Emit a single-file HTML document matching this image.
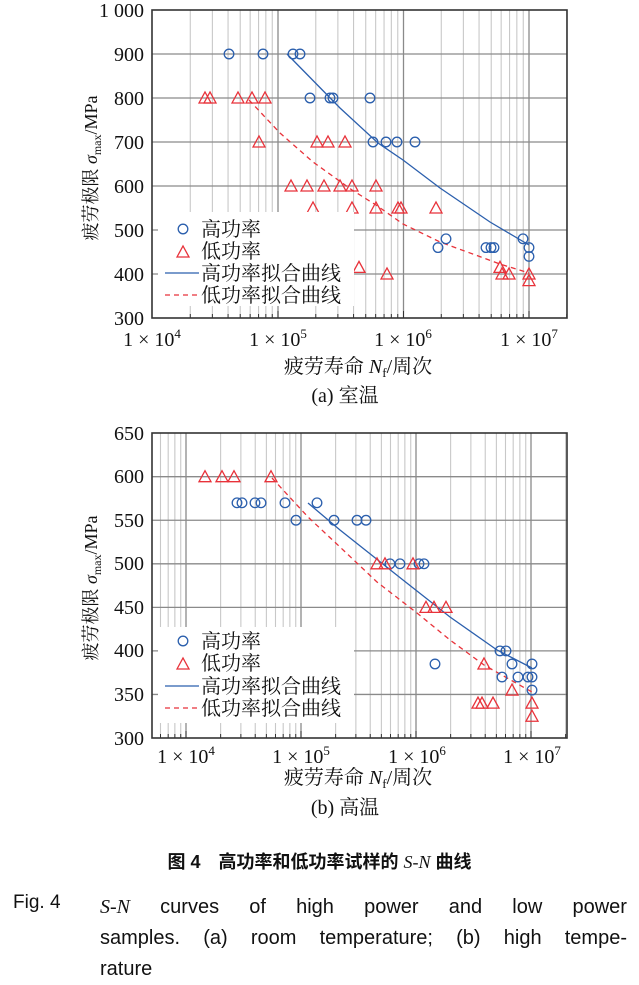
<!DOCTYPE html>
<html><head><meta charset="utf-8">
<style>
body{margin:0;background:#fff;width:639px;height:984px;overflow:hidden;position:relative}
svg{position:absolute;left:0;top:0}
.cap{position:absolute;font-family:"Liberation Sans","Noto Sans CJK SC",sans-serif;color:#111}
.row{display:flex;justify-content:space-between;width:527px;height:31px}
</style></head><body>
<svg id="s" width="639" height="984" xmlns="http://www.w3.org/2000/svg" font-family="'Liberation Serif','Noto Serif CJK SC',serif">
<g id="g"></g>
<g font-size="20" fill="#111" text-anchor="end">
<text x="144" y="17">1 000</text><text x="144" y="61">900</text><text x="144" y="105">800</text><text x="144" y="149">700</text><text x="144" y="193">600</text><text x="144" y="237">500</text><text x="144" y="281">400</text><text x="144" y="325">300</text>
<text x="144" y="440">650</text><text x="144" y="483">600</text><text x="144" y="527">550</text><text x="144" y="570">500</text><text x="144" y="614">450</text><text x="144" y="657">400</text><text x="144" y="701">350</text><text x="144" y="745">300</text>
</g>
<g font-size="20" fill="#111" text-anchor="middle">
<text x="152" y="346">1 × 10<tspan font-size="13" dy="-8">4</tspan></text>
<text x="278" y="346">1 × 10<tspan font-size="13" dy="-8">5</tspan></text>
<text x="403" y="346">1 × 10<tspan font-size="13" dy="-8">6</tspan></text>
<text x="529" y="346">1 × 10<tspan font-size="13" dy="-8">7</tspan></text>
<text x="186" y="763">1 × 10<tspan font-size="13" dy="-8">4</tspan></text>
<text x="301" y="763">1 × 10<tspan font-size="13" dy="-8">5</tspan></text>
<text x="417" y="763">1 × 10<tspan font-size="13" dy="-8">6</tspan></text>
<text x="532" y="763">1 × 10<tspan font-size="13" dy="-8">7</tspan></text>
<text x="358" y="373">疲劳寿命 <tspan font-style="italic">N</tspan><tspan font-size="13" dy="4">f</tspan><tspan dy="-4">/周次</tspan></text>
<text x="345" y="402">(a) 室温</text>
<text x="358" y="784">疲劳寿命 <tspan font-style="italic">N</tspan><tspan font-size="13" dy="4">f</tspan><tspan dy="-4">/周次</tspan></text>
<text x="345" y="814">(b) 高温</text>
</g>
<g font-size="18" fill="#111" text-anchor="middle">
<text transform="translate(97,168) rotate(-90)">疲劳极限 <tspan font-style="italic">σ</tspan><tspan font-size="12" dy="4">max</tspan><tspan dy="-4">/MPa</tspan></text>
<text transform="translate(97,588) rotate(-90)">疲劳极限 <tspan font-style="italic">σ</tspan><tspan font-size="12" dy="4">max</tspan><tspan dy="-4">/MPa</tspan></text>
</g>
<g id="leg" font-size="20" fill="#111">
<rect x="158" y="212" width="196" height="94" fill="#fff"/>
<circle cx="183" cy="229" r="4.8" fill="none" stroke="#2b5fad" stroke-width="1.3"/>
<path d="M177,257 L183,246 L189,257Z" fill="none" stroke="#e8323a" stroke-width="1.3"/>
<line x1="165" y1="273" x2="199" y2="273" stroke="#2b5fad" stroke-width="1.3"/>
<line x1="165" y1="295" x2="199" y2="295" stroke="#e8323a" stroke-width="1.3" stroke-dasharray="5,4"/>
<text x="201" y="236">高功率</text><text x="201" y="258">低功率</text><text x="201" y="280">高功率拟合曲线</text><text x="201" y="302">低功率拟合曲线</text>
<rect x="158" y="627" width="196" height="96" fill="#fff"/>
<circle cx="183" cy="641" r="4.8" fill="none" stroke="#2b5fad" stroke-width="1.3"/>
<path d="M177,669 L183,658 L189,669Z" fill="none" stroke="#e8323a" stroke-width="1.3"/>
<line x1="165" y1="686" x2="199" y2="686" stroke="#2b5fad" stroke-width="1.3"/>
<line x1="165" y1="708" x2="199" y2="708" stroke="#e8323a" stroke-width="1.3" stroke-dasharray="5,4"/>
<text x="201" y="648">高功率</text><text x="201" y="670">低功率</text><text x="201" y="693">高功率拟合曲线</text><text x="201" y="715">低功率拟合曲线</text>
</g>
</svg>
<div class="cap" style="left:0;width:639px;top:848px;text-align:center;font-size:18px;font-weight:bold">图 4　高功率和低功率试样的 <i style="font-family:'Liberation Serif',serif;font-weight:normal">S-N</i> 曲线</div>
<div class="cap" style="left:13px;top:892px;font-size:19px">Fig. 4</div>
<div class="cap" style="left:100px;top:892px;width:527px;font-size:20px;line-height:31px">
<div class="row"><i style="font-family:'Liberation Serif',serif">S-N</i><span>curves</span><span>of</span><span>high</span><span>power</span><span>and</span><span>low</span><span>power</span></div>
<div class="row"><span>samples.</span><span>(a)</span><span>room</span><span>temperature;</span><span>(b)</span><span>high</span><span>tempe-</span></div>
<div>rature</div></div>
<script>
const NS="http://www.w3.org/2000/svg",g=document.getElementById('g'),svg=document.getElementById('s'),leg=document.getElementById('leg');
function el(t,a,p){const e=document.createElementNS(NS,t);for(const k in a)e.setAttribute(k,a[k]);(p||g).appendChild(e);return e}
function chart(L,R,T,B,x0,dec,lo,yvals,Y){
 for(let d=3;d<=7;d++)for(let m=1;m<=9;m++){const x=x0+dec*(d-4+Math.log10(m));if(x<=L+0.5||x>=R)continue;
  el('line',{x1:x,x2:x,y1:T,y2:B,stroke:m==1?'#8a8a8a':'#c8c8c8','stroke-width':m==1?1.3:1.1});
  el('line',{x1:x,x2:x,y1:B,y2:B-(m==1?7:4),stroke:'#333','stroke-width':1});}
 yvals.forEach(v=>{const y=Y(v);el('line',{x1:L,x2:R,y1:y,y2:y,stroke:'#8a8a8a','stroke-width':1.3});});
 el('rect',{x:L,y:T,width:R-L,height:B-T,fill:'none',stroke:'#333','stroke-width':1.6});
}
const Yt=s=>318-(s-300)*0.44, Yb=s=>738-(s-300)*0.871;
chart(152,567,10,318,152.5,125.5,4,[900,800,700,600,500,400],Yt);
chart(152,567,433,738,186,115,3.7,[600,550,500,450,400,350],Yb);
const pl=el('g',{});
function C(x,y){el('circle',{cx:x,cy:y,r:4.8,fill:'none',stroke:'#2b5fad','stroke-width':1.3},pl)}
function T(x,y){el('path',{d:`M${x-6},${y+5} L${x},${y-6} L${x+6},${y+5}Z`,fill:'none',stroke:'#e8323a','stroke-width':1.3},pl)}
function path(pts,col,dash){let d='M'+pts[0];for(let i=1;i<pts.length;i++)d+=' L'+pts[i];const a={d:d,fill:'none',stroke:col,'stroke-width':1.3};if(dash)a['stroke-dasharray']='5,4';el('path',a,pl)}
path([[287,54],[340,108],[378,143],[403,160],[440,188],[490,222],[529,245]],'#2b5fad');
path([[249,100],[280,133],[313,162],[352,190],[376,205],[403,224],[440,242],[500,264],[529,273]],'#e8323a',1);
[[900,[229,263,293,300]],[800,[310,330,333,370]],[700,[373,386,397,415]],[480,[446,523]],[460,[438,486,491,494,529]],[440,[529]]].forEach(([s,xs])=>xs.forEach(x=>C(x,Yt(s))));
[[800,[205,210,238,252,265]],[700,[259,317,328,345]],[600,[291,307,324,340,352,376]],[550,[313,352,376,398,401,436]],[415,[359,500]],[400,[387,502,509,529]],[385,[529]]].forEach(([s,xs])=>xs.forEach(x=>T(x,Yt(s))));
path([[308,503],[340,530],[403,580],[450,617],[497,650],[532,668]],'#2b5fad');
path([[272,478],[308,517],[340,547],[377,582],[417,613],[450,640],[484,665],[532,692]],'#e8323a',1);
[[570,[237,242,255,261,285,317]],[550,[296,334,357,366]],[500,[390,400,419,424]],[400,[500,506]],[385,[435,512,532]],[370,[502,518,528,532]],[355,[532]]].forEach(([s,xs])=>xs.forEach(x=>C(x,Yb(s))));
[[600,[205,222,234,271]],[500,[377,385,413]],[450,[426,434,446]],[385,[484]],[355,[512]],[340,[478,482,493,532]],[325,[532]]].forEach(([s,xs])=>xs.forEach(x=>T(x,Yb(s))));
svg.appendChild(leg);
</script>
</body></html>
